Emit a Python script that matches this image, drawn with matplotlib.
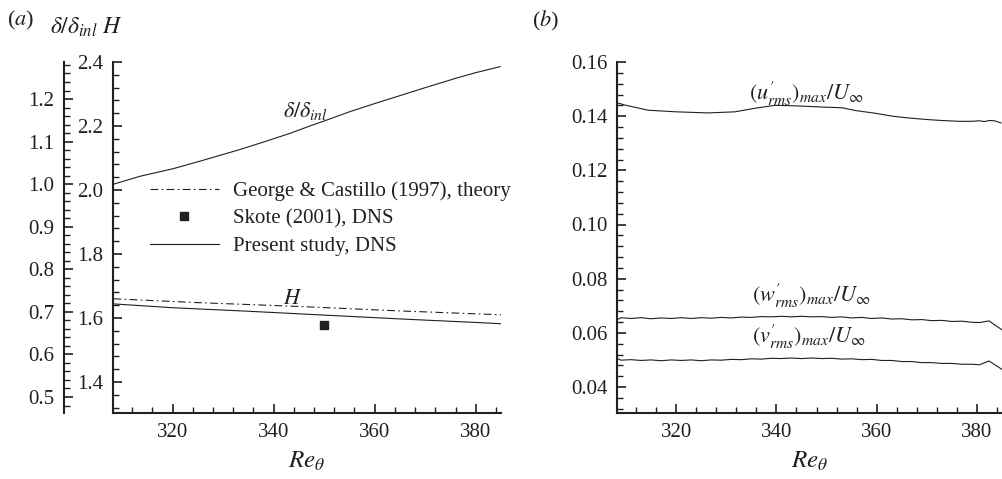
import matplotlib
matplotlib.use("Agg")
import matplotlib.pyplot as plt
from matplotlib.ticker import MultipleLocator, FormatStrFormatter

plt.rcParams['font.family'] = ['Liberation Serif', 'DejaVu Serif']
plt.rcParams['mathtext.fontset'] = 'stix'

INK = '#231f20'

# ---------------- data: panel (a) ----------------
re_delta = [308.3, 313.7, 320, 326, 333.5, 338, 343.4, 347, 350.6, 355, 359.9, 365, 369.8, 376.4, 380, 384.8]
delta_ratio = [1.000, 1.019, 1.036, 1.056, 1.082, 1.099, 1.120, 1.136, 1.151, 1.170, 1.189, 1.208, 1.226, 1.250, 1.262, 1.276]

re_h_theory = [308.3, 325, 345, 365, 385]
h_theory = [1.660, 1.648, 1.636, 1.622, 1.610]

re_h_dns = [308.3, 320, 335, 350, 365, 380, 385]
h_dns = [1.644, 1.632, 1.621, 1.609, 1.597, 1.586, 1.582]

re_skote = [350]
h_skote = [1.578]

# ---------------- data: panel (b) ----------------
re_u = [308.3, 310, 314.4, 320, 326.4, 331.7, 336, 339.7, 344, 350, 353.1, 355.7, 360, 363.1, 366,
        369.7, 373, 376.4, 379, 380.5, 381.5, 382.5, 383.5, 384.8]
u_rms = [0.1449, 0.1440, 0.1422, 0.1416, 0.1412, 0.1416, 0.1430, 0.1440, 0.1438, 0.1433, 0.1431, 0.1421,
         0.1410, 0.1400, 0.1394, 0.1388, 0.1384, 0.1381, 0.1381, 0.1383, 0.1380, 0.1384, 0.1383, 0.1375]

re_wv = [308.3, 309.0, 311, 313, 315, 317, 319, 321, 323, 325, 327, 329, 331, 333, 335, 337, 339, 341,
         343, 345, 347, 349, 351, 353, 355, 357, 359, 361, 363, 365, 367, 369, 371, 373, 375, 377, 379,
         380.5, 382.4, 385]
w_rms = [0.0649, 0.0656, 0.0653, 0.0656, 0.0652, 0.0655, 0.0653, 0.0656, 0.0653, 0.0656, 0.0654, 0.0657,
         0.0655, 0.0658, 0.0657, 0.0660, 0.0659, 0.0661, 0.0659, 0.0661, 0.0659, 0.0660, 0.0657, 0.0659,
         0.0655, 0.0657, 0.0653, 0.0655, 0.0651, 0.0652, 0.0648, 0.0649, 0.0645, 0.0646, 0.0642, 0.0643,
         0.0639, 0.0638, 0.0644, 0.0611]
v_rms = [0.0505, 0.0499, 0.0501, 0.0498, 0.0500, 0.0497, 0.0500, 0.0498, 0.0500, 0.0497, 0.0500, 0.0499,
         0.0502, 0.0501, 0.0504, 0.0503, 0.0506, 0.0505, 0.0507, 0.0505, 0.0507, 0.0505, 0.0506, 0.0503,
         0.0504, 0.0501, 0.0502, 0.0498, 0.0498, 0.0494, 0.0494, 0.0490, 0.0490, 0.0487, 0.0487, 0.0484,
         0.0484, 0.0482, 0.0496, 0.0465]

x_ticks = [320, 340, 360, 380]

# ---------------- figure ----------------
fig = plt.figure(figsize=(10.03, 4.79), dpi=100)
W, Hh = 1003, 479
def axpos(l, r, t, b):
    return [l / W, 1 - b / Hh, (r - l) / W, (b - t) / Hh]

axA = fig.add_axes(axpos(113, 501, 62, 413))
axB = fig.add_axes(axpos(617, 1002, 62, 413))

XLIM = (308.2, 385)
LW = 0.8
TICKFS = 15

def style(ax):
    for s in ['top', 'right']:
        ax.spines[s].set_visible(False)
    for s in ['left', 'bottom']:
        ax.spines[s].set_linewidth(1.5)
        ax.spines[s].set_color(INK)
    ax.tick_params(which='both', direction='in', colors=INK, labelsize=TICKFS, width=1.2)
    ax.tick_params(which='major', length=6.5)
    ax.tick_params(which='minor', length=4, width=1.0)
    ax.tick_params(axis='y', which='major', pad=7)
    ax.tick_params(axis='x', which='major', pad=7)
    ax.set_xlim(*XLIM)
    ax.set_xticks(x_ticks)
    ax.xaxis.set_minor_locator(MultipleLocator(4))
    ax.set_xlabel(r'$Re_{\theta}$', fontsize=18, color=INK, labelpad=6)

# ---- panel (a) ----
style(axA)
axA.set_ylim(1.303, 2.4)
axA.yaxis.set_major_locator(MultipleLocator(0.2))
axA.yaxis.set_minor_locator(MultipleLocator(0.04))
axA.yaxis.set_major_formatter(FormatStrFormatter('%.1f'))

axD = axA.twinx()
axD.set_ylim(0.4624, 1.287)
for s in ['top', 'right', 'bottom']:
    axD.spines[s].set_visible(False)
axD.spines['left'].set_visible(True)
axD.spines['left'].set_position(('outward', 49 * 72 / 100))
axD.spines['left'].set_linewidth(1.5)
axD.spines['left'].set_color(INK)
axD.yaxis.tick_left()
axD.yaxis.set_label_position('left')
axD.yaxis.set_major_locator(MultipleLocator(0.1))
axD.yaxis.set_minor_locator(MultipleLocator(0.02))
axD.yaxis.set_major_formatter(FormatStrFormatter('%.1f'))
axD.tick_params(which='both', direction='in', colors=INK, labelsize=TICKFS, width=1.2)
axD.tick_params(which='major', length=6.5, pad=7)
axD.tick_params(which='minor', length=4, width=1.0)

dashdot = (0, (7, 3, 1.5, 3))
axD.plot(re_delta, delta_ratio, color=INK, lw=LW)
l1, = axA.plot(re_h_theory, h_theory, color=INK, lw=LW, linestyle=dashdot,
               label='George & Castillo (1997), theory')
l2, = axA.plot(re_skote, h_skote, linestyle='none', marker='s', markersize=6,
               color=INK, label='Skote (2001), DNS')
l3, = axA.plot(re_h_dns, h_dns, color=INK, lw=LW, label='Present study, DNS')

axD.text(346.3, 1.171, r'$\delta/\delta_{inl}$', fontsize=16, ha='center', va='center', color=INK)
axA.text(343.7, 1.657, r'$H$', fontsize=16, ha='center', va='center', color=INK)

leg = axD.legend(handles=[l1, l2, l3], loc='upper left', bbox_to_anchor=(0.095, 0.66),
                 frameon=False, fontsize=15, borderpad=0, borderaxespad=0,
                 handlelength=3.3, handletextpad=0.7, labelspacing=0.38)
for t in leg.get_texts():
    t.set_color(INK)

fig.text(7 / W, 1 - 20 / Hh, r'($a$)', fontsize=16, va='center', ha='left', color=INK)
fig.text(50 / W, 1 - 27 / Hh, r'$\delta/\delta_{inl}\ H$', fontsize=17, va='center', ha='left', color=INK)

# ---- panel (b) ----
style(axB)
axB.set_ylim(0.0304, 0.16)
axB.yaxis.set_major_locator(MultipleLocator(0.02))
axB.yaxis.set_minor_locator(MultipleLocator(0.004))
axB.yaxis.set_major_formatter(FormatStrFormatter('%.2f'))

axB.plot(re_u, u_rms, color=INK, lw=LW)
axB.plot(re_wv, w_rms, color=INK, lw=LW)
axB.plot(re_wv, v_rms, color=INK, lw=LW)

axB.text(346, 0.1481, r"$(u^{\prime}_{rms})_{max}/U_{\infty}$", fontsize=16, ha='center', va='center', color=INK)
axB.text(347, 0.0737, r"$(w^{\prime}_{rms})_{max}/U_{\infty}$", fontsize=16, ha='center', va='center', color=INK)
axB.text(346.5, 0.0585, r"$(v^{\prime}_{rms})_{max}/U_{\infty}$", fontsize=16, ha='center', va='center', color=INK)

fig.text(532 / W, 1 - 21 / Hh, r'($b$)', fontsize=16, va='center', ha='left', color=INK)

fig.savefig('out.png', dpi=100)
